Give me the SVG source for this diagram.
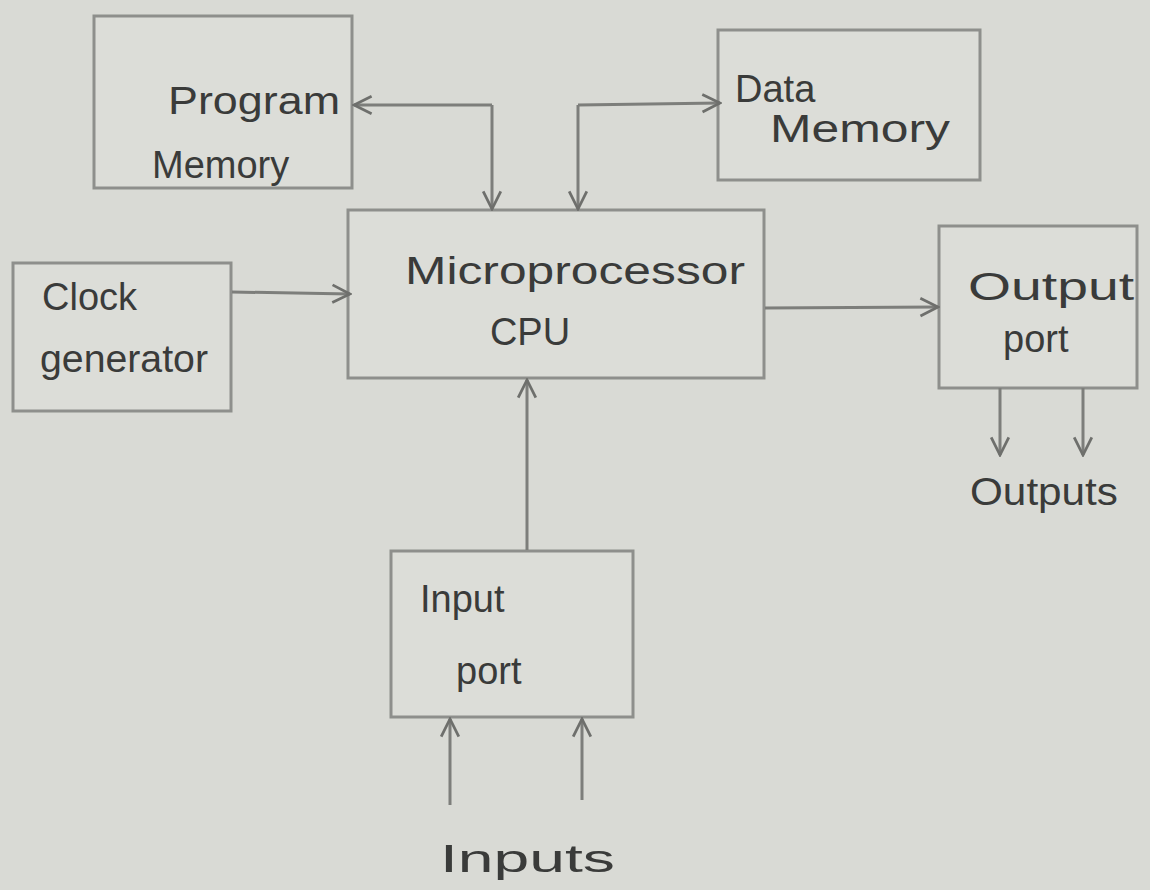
<svg xmlns="http://www.w3.org/2000/svg" width="1150" height="890" viewBox="0 0 1150 890">
<style>
.box{fill:#dcddd8;stroke:#8e8f8c;stroke-width:3}
.ln{fill:none;stroke:#7d7e7b;stroke-width:3}
.t{font-family:"Liberation Sans",Arial,sans-serif;fill:#3a3b3a;font-size:38px}
</style>
<defs>
<marker id="a" viewBox="0 0 20 20" refX="18" refY="10" markerWidth="22" markerHeight="22" orient="auto" markerUnits="userSpaceOnUse">
<path d="M2,2 L18,10 L2,18" fill="none" stroke="#6e6f6c" stroke-width="2.5"/>
</marker>
</defs>
<rect width="1150" height="890" fill="#d9dad5"/>
<g id="program-memory"><rect class="box" x="94" y="16" width="258" height="172"/><text class="t" x="168" y="114" font-size="42" textLength="172" lengthAdjust="spacingAndGlyphs">Program</text><text class="t" x="152" y="178" font-size="32">Memory</text></g>
<g id="data-memory"><rect class="box" x="718" y="30" width="262" height="150"/><text class="t" x="735" y="102" font-size="34">Data</text><text class="t" x="770" y="142" font-size="38" textLength="180" lengthAdjust="spacingAndGlyphs">Memory</text></g>
<g id="cpu"><rect class="box" x="348" y="210" width="416" height="168"/><text class="t" x="405" y="284" font-size="46" textLength="340" lengthAdjust="spacingAndGlyphs">Microprocessor</text><text class="t" x="530" y="345" text-anchor="middle" font-size="40">CPU</text></g>
<g id="clock"><rect class="box" x="13" y="263" width="218" height="148"/><text class="t" x="42" y="310" font-size="36">Clock</text><text class="t" x="40" y="372" font-size="36" textLength="168" lengthAdjust="spacingAndGlyphs">generator</text></g>
<g id="output-port"><rect class="box" x="939" y="226" width="198" height="162"/><text class="t" x="968" y="300" font-size="36" textLength="166" lengthAdjust="spacingAndGlyphs">Output</text><text class="t" x="1003" y="352" font-size="40">port</text></g>
<g id="input-port"><rect class="box" x="391" y="551" width="242" height="166"/><text class="t" x="420" y="612" font-size="42">Input</text><text class="t" x="456" y="684" font-size="42">port</text></g>
<g id="connectors">
<path class="ln" d="M492,105 L354,105" marker-end="url(#a)"/>
<path class="ln" d="M492,105 L492,209" marker-end="url(#a)"/>
<path class="ln" d="M578,105 L720,103" marker-end="url(#a)"/>
<path class="ln" d="M578,105 L578,209" marker-end="url(#a)"/>
<path class="ln" d="M232,292 L350,294" marker-end="url(#a)"/>
<path class="ln" d="M765,308 L938,307" marker-end="url(#a)"/>
<path class="ln" d="M527,550 L527,380" marker-end="url(#a)"/>
<path class="ln" d="M1000,388 L1000,455" marker-end="url(#a)"/>
<path class="ln" d="M1083,388 L1083,455" marker-end="url(#a)"/>
<path class="ln" d="M450,805 L450,719" marker-end="url(#a)"/>
<path class="ln" d="M582,800 L582,719" marker-end="url(#a)"/>
</g>
<text class="t" x="970" y="505" font-size="36" textLength="148" lengthAdjust="spacingAndGlyphs">Outputs</text>
<text class="t" x="440" y="872" font-size="44" textLength="175" lengthAdjust="spacingAndGlyphs">Inputs</text>
</svg>
